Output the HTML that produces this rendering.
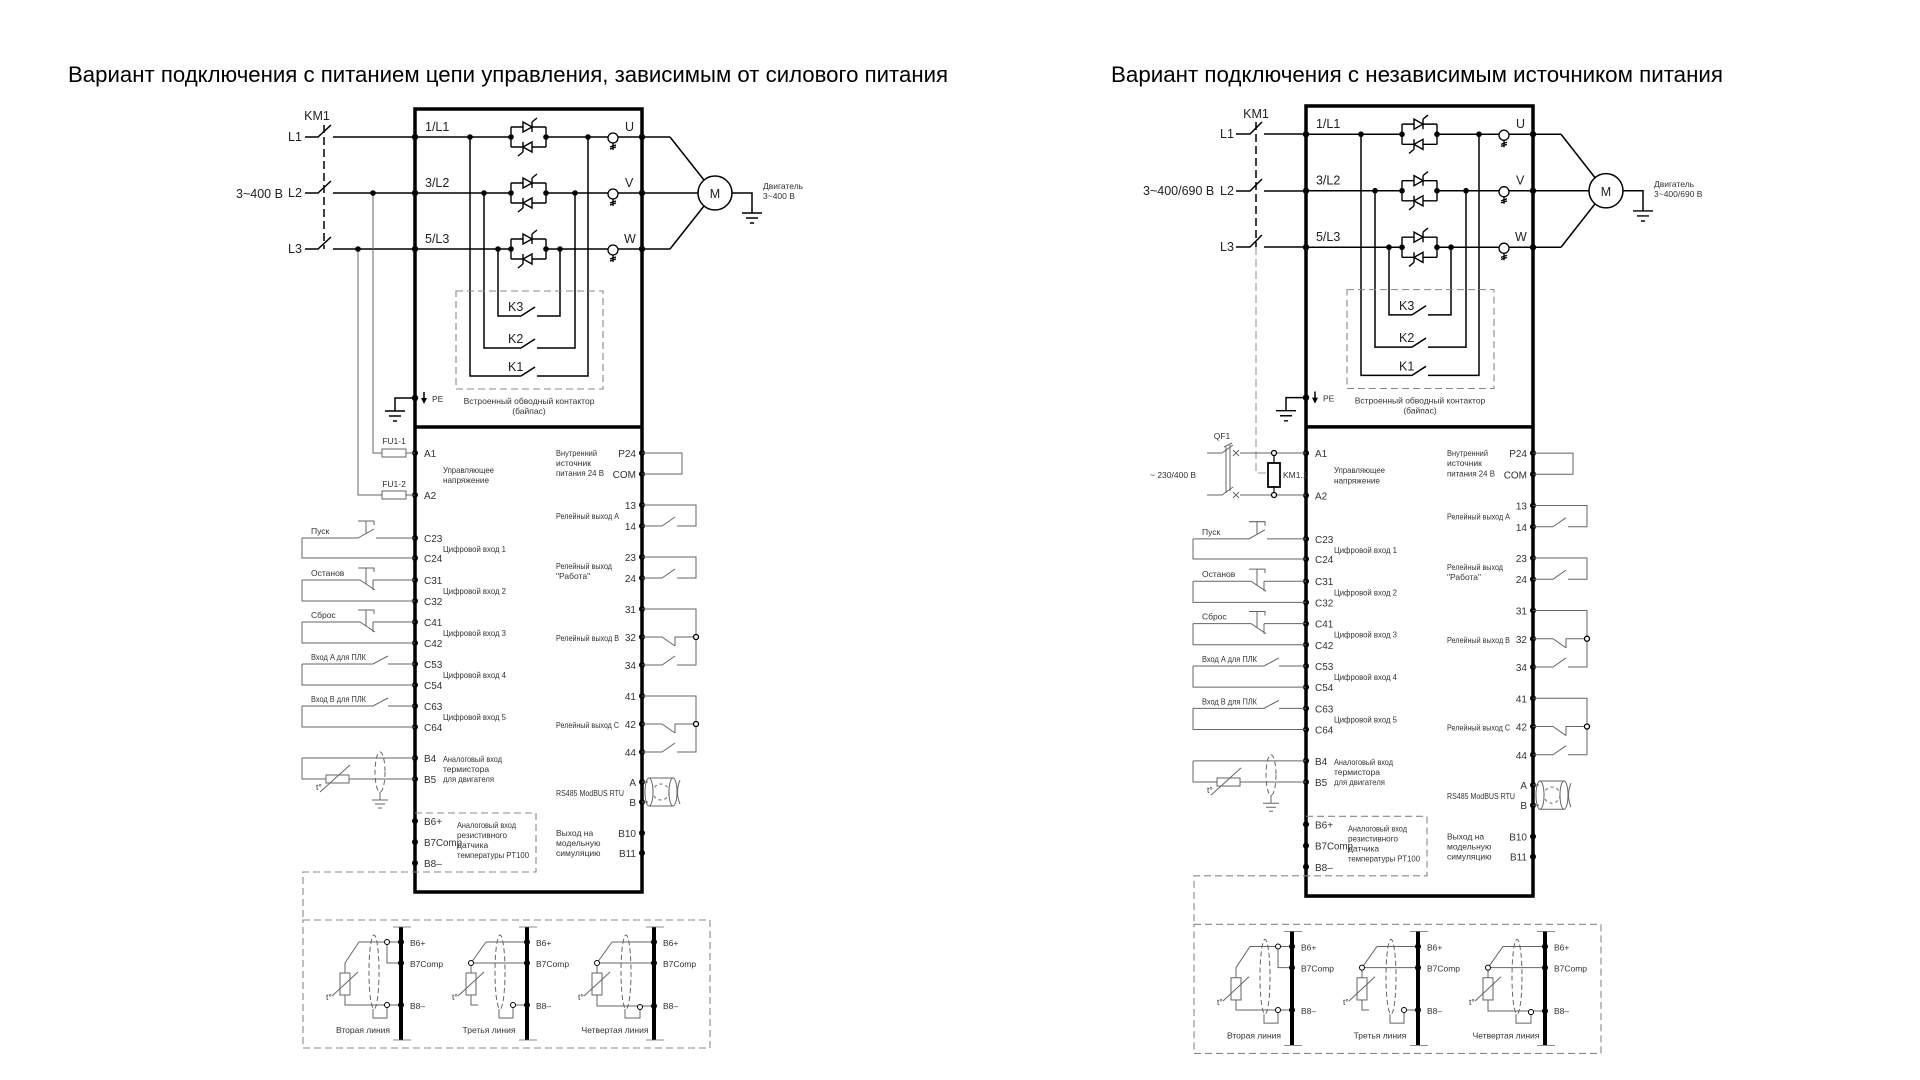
<!DOCTYPE html>
<html><head><meta charset="utf-8">
<style>
html,body{margin:0;padding:0;background:#fff;}
svg{display:block;}
text{font-family:"Liberation Sans",sans-serif;fill:#333;}
.t{font-size:10px;}
.s{font-size:8.5px;}
.m{font-size:12.5px;fill:#222;}
.ttl{font-size:22px;fill:#000;}
</style></head>
<body>
<svg width="1920" height="1080" viewBox="0 0 1920 1080" xmlns="http://www.w3.org/2000/svg">
<defs>
<g id="thy" stroke="#000" stroke-width="1.4" fill="none">
 <path d="M511,-10 V10 M546,-10 V10 M511,-10 H523 M532,-10 H546 M511,10 H523 M532,10 H546"/>
 <polygon points="523,-15 523,-5 532,-10" fill="#fff"/>
 <path d="M532,-15 V-5 M532,-15 L537,-19"/>
 <polygon points="532,5 532,15 523,10" fill="#fff"/>
 <path d="M523,5 V15 M523,15 L518,19"/>
 <circle cx="511" cy="0" r="2.8" fill="#000" stroke="none"/>
 <circle cx="546" cy="0" r="2.8" fill="#000" stroke="none"/>
</g>
<g id="ct" stroke="#000" stroke-width="1.3" fill="none">
 <circle cx="613" cy="1" r="5" fill="#fff"/>
 <path d="M613,6 V13 M610,10 L616,8 M610,12 L616,10"/>
</g>
<g id="gnd" stroke="#000" stroke-width="1.4">
 <path d="M-10,0 H10 M-6,5 H6 M-2,10 H2"/>
</g>
</defs>

<text class="ttl" x="68" y="82" textLength="880" lengthAdjust="spacingAndGlyphs">Вариант подключения с питанием цепи управления, зависимым от силового питания</text>
<text class="ttl" x="1111" y="82" textLength="612" lengthAdjust="spacingAndGlyphs">Вариант подключения с независимым источником питания</text>

<g id="common" fill="none" stroke="#000" stroke-width="1.5">
 <rect x="415" y="109" width="227" height="783" stroke-width="3.5"/>
 <line x1="415" y1="427" x2="642" y2="427" stroke-width="3.5"/>
 <path d="M415,137 H511 M546,137 H670 M415,193 H511 M546,193 H698 M415,249 H511 M546,249 H670"/>
 <use href="#thy" y="137"/><use href="#thy" y="193"/><use href="#thy" y="249"/>
 <use href="#ct" y="137"/><use href="#ct" y="193"/><use href="#ct" y="249"/>
 <path d="M470,137 V376 H521 M537,376 H588 V137 M521,376 L535,367"/>
 <path d="M484,193 V348 H521 M537,348 H575 V193 M521,348 L535,339"/>
 <path d="M498,249 V316 H521 M537,316 H560 V249 M521,316 L535,307"/>
 <rect x="456" y="291" width="147" height="98" stroke="#888" stroke-width="1.1" stroke-dasharray="7 4"/>
 <path d="M670,137 L704,180 M670,249 L704,206"/>
 <circle cx="715" cy="193" r="17"/>
 <path d="M732,193 H752 V213"/>
 <use href="#gnd" x="752" y="213"/>
 <path d="M415,398 H395 V411"/>
 <use href="#gnd" x="395" y="411"/>
 <g fill="#000" stroke="none">
  <circle cx="415" cy="137" r="3.2"/><circle cx="415" cy="193" r="3.2"/><circle cx="415" cy="249" r="3.2"/>
  <circle cx="642" cy="137" r="3.2"/><circle cx="642" cy="193" r="3.2"/><circle cx="642" cy="249" r="3.2"/>
  <circle cx="470" cy="137" r="2.8"/><circle cx="484" cy="193" r="2.8"/><circle cx="498" cy="249" r="2.8"/>
  <circle cx="588" cy="137" r="2.8"/><circle cx="575" cy="193" r="2.8"/><circle cx="560" cy="249" r="2.8"/>
  <circle cx="415" cy="398" r="3.2"/>
  <polygon points="421,398 427,398 424,404"/>
 </g>
 <path d="M424,392 V400"/>
 <g stroke="none">
  <text class="m" x="425" y="131">1/L1</text>
  <text class="m" x="425" y="187">3/L2</text>
  <text class="m" x="425" y="243">5/L3</text>
  <text class="m" x="625" y="131">U</text>
  <text class="m" x="625" y="187">V</text>
  <text class="m" x="624" y="243">W</text>
  <text class="m" x="508" y="311">K3</text>
  <text class="m" x="508" y="343">K2</text>
  <text class="m" x="508" y="371">K1</text>
  <text class="m" x="715" y="198" text-anchor="middle">M</text>
  <text class="s" x="432" y="402">PE</text>
  <text class="s" x="529" y="404" text-anchor="middle">Встроенный обводный контактор</text>
  <text class="s" x="529" y="414" text-anchor="middle">(байпас)</text>
 </g>

 <g fill="#000" stroke="none">
  <circle cx="415" cy="453" r="3"/><circle cx="415" cy="495" r="3"/>
  <circle cx="415" cy="538" r="3"/><circle cx="415" cy="558" r="3"/>
  <circle cx="415" cy="580" r="3"/><circle cx="415" cy="601" r="3"/>
  <circle cx="415" cy="622" r="3"/><circle cx="415" cy="643" r="3"/>
  <circle cx="415" cy="664" r="3"/><circle cx="415" cy="685" r="3"/>
  <circle cx="415" cy="706" r="3"/><circle cx="415" cy="727" r="3"/>
  <circle cx="415" cy="758" r="3"/><circle cx="415" cy="779" r="3"/>
  <circle cx="415" cy="821" r="3"/><circle cx="415" cy="842" r="3"/><circle cx="415" cy="863" r="3"/>
  <circle cx="642" cy="453" r="3"/><circle cx="642" cy="474" r="3"/>
  <circle cx="642" cy="505" r="3"/><circle cx="642" cy="526" r="3"/>
  <circle cx="642" cy="557" r="3"/><circle cx="642" cy="578" r="3"/>
  <circle cx="642" cy="609" r="3"/><circle cx="642" cy="637" r="3"/><circle cx="642" cy="665" r="3"/>
  <circle cx="642" cy="696" r="3"/><circle cx="642" cy="724" r="3"/><circle cx="642" cy="752" r="3"/>
  <circle cx="642" cy="782" r="3"/><circle cx="642" cy="802" r="3"/>
  <circle cx="642" cy="833" r="3"/><circle cx="642" cy="853" r="3"/>
 </g>
 <g stroke="none">
  <text class="t" x="424" y="457">A1</text><text class="t" x="424" y="499">A2</text>
  <text class="t" x="424" y="542">C23</text><text class="t" x="424" y="562">C24</text>
  <text class="t" x="424" y="584">C31</text><text class="t" x="424" y="605">C32</text>
  <text class="t" x="424" y="626">C41</text><text class="t" x="424" y="647">C42</text>
  <text class="t" x="424" y="668">C53</text><text class="t" x="424" y="689">C54</text>
  <text class="t" x="424" y="710">C63</text><text class="t" x="424" y="731">C64</text>
  <text class="t" x="424" y="762">B4</text><text class="t" x="424" y="783">B5</text>
  <text class="t" x="424" y="825">B6+</text><text class="t" x="424" y="846" textLength="38" lengthAdjust="spacingAndGlyphs">B7Comp</text><text class="t" x="424" y="867">B8–</text>
  <text class="s" x="443" y="473" textLength="51" lengthAdjust="spacingAndGlyphs">Управляющее</text><text class="s" x="443" y="483" textLength="46" lengthAdjust="spacingAndGlyphs">напряжение</text>
  <text class="s" x="443" y="552" textLength="63" lengthAdjust="spacingAndGlyphs">Цифровой вход 1</text>
  <text class="s" x="443" y="594" textLength="63" lengthAdjust="spacingAndGlyphs">Цифровой вход 2</text>
  <text class="s" x="443" y="636" textLength="63" lengthAdjust="spacingAndGlyphs">Цифровой вход 3</text>
  <text class="s" x="443" y="678" textLength="63" lengthAdjust="spacingAndGlyphs">Цифровой вход 4</text>
  <text class="s" x="443" y="720" textLength="63" lengthAdjust="spacingAndGlyphs">Цифровой вход 5</text>
  <text class="s" x="443" y="762" textLength="59" lengthAdjust="spacingAndGlyphs">Аналоговый вход</text><text class="s" x="443" y="772">термистора</text><text class="s" x="443" y="782" textLength="51" lengthAdjust="spacingAndGlyphs">для двигателя</text>
  <text class="s" x="457" y="828" textLength="59" lengthAdjust="spacingAndGlyphs">Аналоговый вход</text><text class="s" x="457" y="838" textLength="50" lengthAdjust="spacingAndGlyphs">резистивного</text><text class="s" x="457" y="848">датчика</text><text class="s" x="457" y="858" textLength="72" lengthAdjust="spacingAndGlyphs">температуры PT100</text>
  <text class="s" x="556" y="456" textLength="41" lengthAdjust="spacingAndGlyphs">Внутренний</text><text class="s" x="556" y="466">источник</text><text class="s" x="556" y="476" textLength="48" lengthAdjust="spacingAndGlyphs">питания 24 В</text>
  <text class="s" x="556" y="519" textLength="63" lengthAdjust="spacingAndGlyphs">Релейный выход A</text>
  <text class="s" x="556" y="569" textLength="56" lengthAdjust="spacingAndGlyphs">Релейный выход</text><text class="s" x="556" y="579">"Работа"</text>
  <text class="s" x="556" y="641" textLength="63" lengthAdjust="spacingAndGlyphs">Релейный выход B</text>
  <text class="s" x="556" y="728" textLength="63" lengthAdjust="spacingAndGlyphs">Релейный выход C</text>
  <text class="s" x="556" y="796" textLength="68" lengthAdjust="spacingAndGlyphs">RS485 ModBUS RTU</text>
  <text class="s" x="556" y="836">Выход на</text><text class="s" x="556" y="846">модельную</text><text class="s" x="556" y="856">симуляцию</text>
  <g text-anchor="end">
  <text class="t" x="636" y="457">P24</text><text class="t" x="636" y="478">COM</text>
  <text class="t" x="636" y="509">13</text><text class="t" x="636" y="530">14</text>
  <text class="t" x="636" y="561">23</text><text class="t" x="636" y="582">24</text>
  <text class="t" x="636" y="613">31</text><text class="t" x="636" y="641">32</text><text class="t" x="636" y="669">34</text>
  <text class="t" x="636" y="700">41</text><text class="t" x="636" y="728">42</text><text class="t" x="636" y="756">44</text>
  <text class="t" x="636" y="786">A</text><text class="t" x="636" y="806">B</text>
  <text class="t" x="636" y="837">B10</text><text class="t" x="636" y="857">B11</text>
  </g>
 </g>
 <g stroke="#666" stroke-width="1">
  <path d="M642,453 H682 V474 H642"/>
  <path d="M642,505 H696 V526 H677 M642,526 H662 L675,517"/>
  <path d="M642,557 H696 V578 H677 M642,578 H662 L675,569"/>
  <path d="M642,609 H696 V665 H677 M642,665 H662 L675,656 M642,637 H662 L675,646 M675,646 V637 H694"/>
  <path d="M642,696 H696 V752 H677 M642,752 H662 L675,743 M642,724 H662 L675,733 M675,733 V724 H694"/>
  <circle cx="696" cy="637" r="2.5" fill="#fff" stroke="#000" stroke-width="1.3"/>
  <circle cx="696" cy="724" r="2.5" fill="#fff" stroke="#000" stroke-width="1.3"/>
  <path d="M642,782 H648 M642,802 H648 M649,778 H673 M649,806 H673"/>
  <ellipse cx="649" cy="792" rx="4" ry="14"/>
  <ellipse cx="673" cy="792" rx="4" ry="14"/>
  <path d="M680,780 Q675,792 680,804" />
  <circle cx="661" cy="792" r="8" stroke-dasharray="3 3"/>
 </g>
 <g stroke="#666" stroke-width="1">
  <path d="M302,538 H358 L374,529 M376,538 H415 M302,538 V558 H415 M366,533 V521 M358,521 H374 V525"/>
  <path d="M302,580 H360 L375,590 M373,580 V590 M373,580 H415 M302,580 V601 H415 M366,584 V568 M358,568 H374 V572"/>
  <path d="M302,622 H360 L375,632 M373,622 V632 M373,622 H415 M302,622 V643 H415 M366,626 V610 M358,610 H374 V614"/>
  <path d="M302,664 H373 L388,656 M388,664 H415 M302,664 V685 H415"/>
  <path d="M302,706 H373 L388,698 M388,706 H415 M302,706 V727 H415"/>
  <path d="M302,758 H415 M302,758 V779 H326 M349,779 H415 M320,792 L350,765"/>
  <rect x="326" y="775" width="23" height="8"/>
  <ellipse cx="380" cy="772" rx="5" ry="20" stroke-dasharray="5 3"/>
  <path d="M380,792 V800 M372,800 H388 M375,804 H385 M378,808 H382"/>
 </g>
 <g stroke="none">
  <text class="s" x="311" y="534">Пуск</text>
  <text class="s" x="311" y="576">Останов</text>
  <text class="s" x="311" y="618">Сброс</text>
  <text class="s" x="311" y="660" textLength="55" lengthAdjust="spacingAndGlyphs">Вход A для ПЛК</text>
  <text class="s" x="311" y="702" textLength="55" lengthAdjust="spacingAndGlyphs">Вход B для ПЛК</text>
  <text class="s" x="316" y="790">t°</text>
 </g>
 <g stroke="#888" stroke-width="1.1" stroke-dasharray="7 4">
  <path d="M415,813 H536 V872 H303 V920"/>
  <rect x="303" y="920" width="407" height="128"/>
 </g>
 <g stroke="#666" stroke-width="1">
  <path d="M387,942 H401 M387,942 V963 H401 M387,1005 H401 M387,942 H359 L345,963 V973 M345,995 V1005 H385 M332,996 L358,972 M373,1009 V1018 H387 V1007"/>
  <rect x="340" y="973" width="10" height="22"/>
  <ellipse cx="374" cy="972" rx="5" ry="37" stroke-dasharray="5 3"/>
  <circle cx="387" cy="942" r="2.5" fill="#fff" stroke="#000"/><circle cx="387" cy="1005" r="2.5" fill="#fff" stroke="#000"/>
  <path d="M486,942 H527 M486,942 L471,963 M471,963 H527 M471,963 V973 M471,995 V1005 H478 M513,1005 H527 M499,1009 V1018 H513 V1007 M458,996 L484,972"/>
  <rect x="466" y="973" width="10" height="22"/>
  <ellipse cx="500" cy="972" rx="5" ry="37" stroke-dasharray="5 3"/>
  <circle cx="471" cy="963" r="2.5" fill="#fff" stroke="#000"/><circle cx="513" cy="1005" r="2.5" fill="#fff" stroke="#000"/>
  <path d="M612,942 H654 M612,942 L597,963 M597,963 H654 M597,963 V973 M597,995 V1006 H654 M625,1009 V1018 H640 V1009 M584,996 L610,972"/>
  <rect x="592" y="973" width="10" height="22"/>
  <ellipse cx="626" cy="972" rx="5" ry="37" stroke-dasharray="5 3"/>
  <circle cx="597" cy="963" r="2.5" fill="#fff" stroke="#000"/><circle cx="640" cy="1007" r="2.5" fill="#fff" stroke="#000"/>
 </g>
 <g stroke="#000">
  <path d="M401,927 V1040 M527,927 V1040 M654,927 V1040" stroke-width="4"/>
  <path d="M393,927 H411 M393,1040 H411 M519,927 H537 M519,1040 H537 M646,927 H664 M646,1040 H664" stroke-width="0.8" stroke="#666"/>
 </g>
 <g fill="#000" stroke="none">
  <circle cx="401" cy="942" r="3"/><circle cx="401" cy="963" r="3"/><circle cx="401" cy="1005" r="3"/>
  <circle cx="527" cy="942" r="3"/><circle cx="527" cy="963" r="3"/><circle cx="527" cy="1005" r="3"/>
  <circle cx="654" cy="942" r="3"/><circle cx="654" cy="963" r="3"/><circle cx="654" cy="1006" r="3"/>
 </g>
 <g stroke="none">
  <text class="s" x="410" y="946">B6+</text><text class="s" x="410" y="967">B7Comp</text><text class="s" x="410" y="1009">B8–</text>
  <text class="s" x="536" y="946">B6+</text><text class="s" x="536" y="967">B7Comp</text><text class="s" x="536" y="1009">B8–</text>
  <text class="s" x="663" y="946">B6+</text><text class="s" x="663" y="967">B7Comp</text><text class="s" x="663" y="1009">B8–</text>
  <text class="s" x="326" y="1000">t°</text><text class="s" x="452" y="1000">t°</text><text class="s" x="578" y="1000">t°</text>
  <text class="s" x="363" y="1033" text-anchor="middle">Вторая линия</text>
  <text class="s" x="489" y="1033" text-anchor="middle">Третья линия</text>
  <text class="s" x="615" y="1033" text-anchor="middle">Четвертая линия</text>
 </g>
</g>

<use href="#common" transform="matrix(1 0 0 1.009 891 -4)"/>

<g fill="none" stroke="#000" stroke-width="1.5">
 <path d="M305,137 H318 L331,125 M333,137 H415 M305,193 H318 L331,181 M333,193 H415 M305,249 H318 L331,237 M333,249 H415"/>
 <path d="M324,125 V249" stroke-dasharray="8 4"/>
 <g stroke="#666" stroke-width="1">
  <path d="M373,193 V453 H382 M406,453 H415 M358,249 V495 H382 M406,495 H415"/>
  <rect x="382" y="449" width="24" height="8"/>
  <rect x="382" y="491" width="24" height="8"/>
 </g>
 <circle cx="373" cy="193" r="2.8" fill="#000" stroke="none"/>
 <circle cx="358" cy="249" r="2.8" fill="#000" stroke="none"/>
</g>
<text class="m" x="288" y="141">L1</text>
<text class="m" x="288" y="197">L2</text>
<text class="m" x="288" y="253">L3</text>
<text class="m" x="317" y="120" text-anchor="middle">KM1</text>
<text class="m" x="236" y="198">3~400 В</text>
<text class="s" x="394" y="444" text-anchor="middle">FU1-1</text>
<text class="s" x="394" y="487" text-anchor="middle">FU1-2</text>
<text class="s" x="763" y="189">Двигатель</text>
<text class="s" x="763" y="199">3~400 В</text>

<g fill="none" stroke="#000" stroke-width="1.5">
 <path d="M1236,134 H1250 L1262,122 M1264,134 H1306 M1236,191 H1250 L1262,179 M1264,191 H1306 M1236,247 H1250 L1262,235 M1264,247 H1306"/>
 <path d="M1256,122 V247" stroke-dasharray="8 4"/>
 <path d="M1256,247 V473 H1269" stroke="#999" stroke-width="1.1" stroke-dasharray="8 4"/>
 <g stroke="#666" stroke-width="1">
  <path d="M1207,453 H1222 L1233,445 M1240,453 H1306 M1207,495 H1222 L1233,487 M1240,495 H1306"/>
  <path d="M1233,450 L1239,456 M1239,450 L1233,456 M1233,492 L1239,498 M1239,492 L1233,498"/>
  <path d="M1226,447 V493 M1230,445 V491 M1224,447 L1232,443"/>
 </g>
 <path d="M1274,453 V463 M1274,487 V495" stroke-width="1.2"/>
 <rect x="1268" y="463" width="12" height="24" stroke-width="1.8"/>
 <circle cx="1274" cy="453" r="2.5" fill="#fff" stroke-width="1.3"/>
 <circle cx="1274" cy="495" r="2.5" fill="#fff" stroke-width="1.3"/>
</g>
<text class="m" x="1220" y="138">L1</text>
<text class="m" x="1220" y="195">L2</text>
<text class="m" x="1220" y="251">L3</text>
<text class="m" x="1256" y="118" text-anchor="middle">KM1</text>
<text class="m" x="1143" y="195">3~400/690 В</text>
<text class="s" x="1222" y="439" text-anchor="middle">QF1</text>
<text class="s" x="1283" y="478">KM1.1</text>
<text class="s" x="1150" y="478">~ 230/400 В</text>
<text class="s" x="1654" y="187">Двигатель</text>
<text class="s" x="1654" y="197">3~400/690 В</text>
</svg>
</body></html>
